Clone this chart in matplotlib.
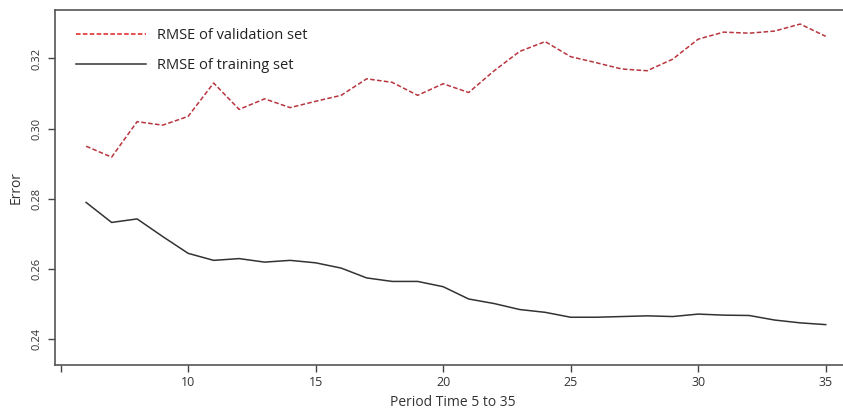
import matplotlib
matplotlib.use("Agg")
import matplotlib.pyplot as plt

period = list(range(6, 36))
rmse_validation = [0.295, 0.2919, 0.302, 0.301, 0.3035, 0.313, 0.3055, 0.3085, 0.306, 0.3078,
                   0.3095, 0.3142, 0.3132, 0.3095, 0.3128, 0.3103, 0.3165, 0.322, 0.3248, 0.3205,
                   0.3188, 0.317, 0.3165, 0.3198, 0.3255, 0.3275, 0.3272, 0.3278, 0.3298, 0.3263]
rmse_training = [0.279, 0.2733, 0.2743, 0.2693, 0.2645, 0.2625, 0.263, 0.262, 0.2625, 0.2618,
                 0.2603, 0.2575, 0.2565, 0.2565, 0.255, 0.2515, 0.2502, 0.2485, 0.2477, 0.2463,
                 0.2463, 0.2465, 0.2467, 0.2465, 0.2472, 0.2469, 0.2468, 0.2455, 0.2447, 0.2442]
xticks = [5, 10, 15, 20, 25, 30, 35]
xtick_labels = ["", "10", "15", "20", "25", "30", "35"]
yticks = [0.24, 0.26, 0.28, 0.30, 0.32]
ytick_labels = ["0.24", "0.26", "0.28", "0.30", "0.32"]

plt.rcParams['font.family'] = ['Open Sans', 'DejaVu Sans']

fig = plt.figure(figsize=(8.43, 4.18), dpi=100)
ax = fig.add_axes([55/843, 1-365/418, (851.2-55)/843, (365-10)/418])

ax.plot(period, rmse_validation, color='#b8353f', linestyle=(0, (3, 1.5)), lw=1.1,
        label='RMSE of validation set')
ax.plot(period, rmse_training, color='#333333', linestyle='-', lw=1.1,
        label='RMSE of training set')

ax.set_xlim(4.78, 36.0)
ax.set_ylim(0.2327, 0.3338)

ax.set_xticks(xticks)
ax.set_xticklabels(xtick_labels, fontsize=9, color='#333333')
ax.set_yticks(yticks)
ax.set_yticklabels(ytick_labels, fontsize=8, color='#333333', rotation=90, va='center')
ax.tick_params(axis='both', direction='out', length=5, width=1, color='#444444')
ax.tick_params(axis='y', pad=4)
ax.tick_params(axis='x', pad=3)

for s in ['left', 'bottom', 'top']:
    ax.spines[s].set_color('#555555')
    ax.spines[s].set_linewidth(1.2)
ax.spines['right'].set_visible(False)

ax.set_xlabel('Period Time 5 to 35', fontsize=10, color='#333333', labelpad=4)
ax.set_ylabel('Error', fontsize=10, color='#333333', labelpad=6)

leg = ax.legend(loc='upper left', bbox_to_anchor=(0.01, 0.985), frameon=False,
                fontsize=10.5, handlelength=4.8, handletextpad=0.75, labelspacing=1.0,
                labelcolor='#222222')
leg.get_lines()[0].set_color('#e02020')

fig.savefig('out.png', dpi=100)
